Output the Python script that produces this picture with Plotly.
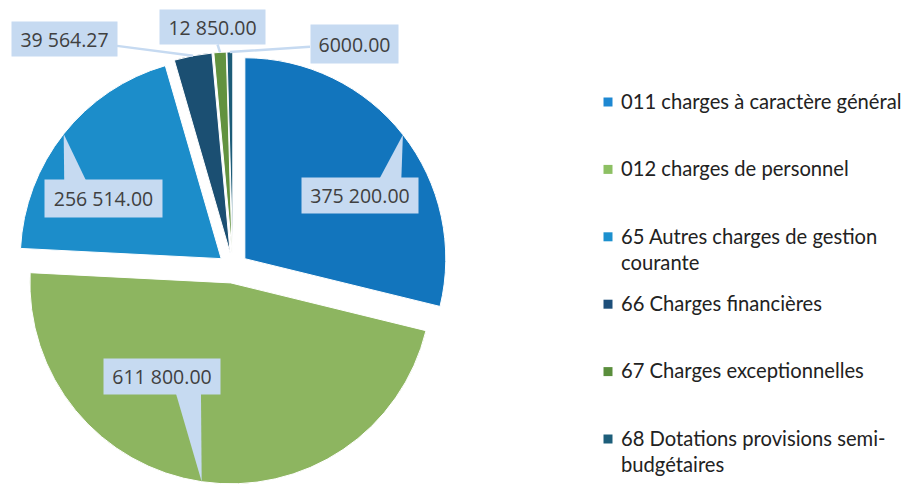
import math
import plotly.graph_objects as go

# ---- data ----
categories = [
    "011 charges à caractère général",
    "012 charges de personnel",
    "65 Autres charges de gestion<br>courante",
    "66 Charges financières",
    "67 Charges exceptionnelles",
    "68 Dotations provisions semi-<br>budgétaires",
]
values = [375200.00, 611800.00, 256514.00, 39564.27, 12850.00, 6000.00]
slice_colors = ["#1275BD", "#8DB560", "#1C8DCA", "#1B4F72", "#62923F", "#1D5C78"]
legend_colors = ["#1E88D2", "#8DC063", "#1C90CE", "#1D4F7A", "#5A8E3C", "#1D5E7A"]

# ---- layout constants ----
W, H = 904, 484
PULL = 0.075
dom_x = [16 / W, 450 / W]
dom_y = [0.0, 1 - 52 / H]
CALLOUT_BG = "#C6DAF1"
CALLOUT_FONT = dict(family="Open Sans", size=19.5, color="#404040")
LEG_FONT = dict(family="Lato", size=20.2, color="#222222")


def fmt(v):
    s = f"{v:,.2f}"
    if v >= 10000:
        return s.replace(",", " ")
    return s.replace(",", "")


def px2paper(x, y):
    return x / W, 1 - y / H


fig = go.Figure(
    go.Pie(
        labels=categories,
        values=values,
        sort=False,
        direction="clockwise",
        rotation=0,
        pull=[PULL] * len(values),
        marker=dict(colors=slice_colors, line=dict(color="white", width=1)),
        textinfo="none",
        hoverinfo="label+value",
        domain=dict(x=dom_x, y=dom_y),
        showlegend=False,
    )
)

# ---- callouts: tips computed from slice mid-angles ----
total = sum(values)
box_w = (dom_x[1] - dom_x[0]) * W
box_h = (dom_y[1] - dom_y[0]) * H
cx_px = (dom_x[0] + dom_x[1]) / 2 * W
cy_px = (1 - dom_y[1]) * H + box_h / 2
outer = min(box_w, box_h) / 2

# (box centre in px, box text width, box text height, style)
callouts = [
    ((360, 195), 106, 25, "wedge"),
    ((162, 376), 106, 25, "wedge"),
    ((103, 198), 107, 27, "wedge"),
    ((64, 39), 95, 24, "line"),
    ((212, 27), 95, 24, "line"),
    ((354, 44), 77, 28, "line"),
]

cum = 0.0
for v, ((bx, by), bw, bh, style) in zip(values, callouts):
    mid = (cum + v / 2) / total * 2 * math.pi
    cum += v
    tx = cx_px + outer * math.sin(mid)
    ty = cy_px - outer * math.cos(mid)
    if style == "wedge":
        base_c = bx + max(-40, min(40, 0.6 * (tx - bx)))
        pts = [px2paper(base_c - 15, by), px2paper(base_c + 15, by), px2paper(tx, ty)]
        path = "M {:.5f} {:.5f} L {:.5f} {:.5f} L {:.5f} {:.5f} Z".format(
            pts[0][0], pts[0][1], pts[1][0], pts[1][1], pts[2][0], pts[2][1])
        fig.add_shape(type="path", path=path, xref="paper", yref="paper",
                      fillcolor=CALLOUT_BG, line=dict(width=0), layer="above")
        px_, py_ = px2paper(bx, by)
        fig.add_annotation(x=px_, y=py_, xref="paper", yref="paper",
                           xanchor="center", yanchor="middle",
                           text=fmt(v), showarrow=False, width=bw, height=bh,
                           bgcolor=CALLOUT_BG, borderpad=5, font=CALLOUT_FONT)
    else:
        px_, py_ = px2paper(tx, ty)
        fig.add_annotation(x=px_, y=py_, xref="paper", yref="paper",
                           text=fmt(v), showarrow=True, arrowhead=0, arrowwidth=2.5,
                           arrowcolor=CALLOUT_BG, ax=bx - tx, ay=by - ty, standoff=0,
                           width=bw, height=bh,
                           bgcolor=CALLOUT_BG, borderpad=5, font=CALLOUT_FONT)

# ---- legend (drawn as text + square swatches) ----
LEG_Y0, LEG_STEP = 101, 67.4
LEG_SW_X, LEG_TX = 608, 620
for i, (lab, col) in enumerate(zip(categories, legend_colors)):
    yc = LEG_Y0 + i * LEG_STEP
    x0, y0 = px2paper(LEG_SW_X - 4.5, yc - 3.5)
    x1, y1 = px2paper(LEG_SW_X + 4.5, yc + 5.5)
    fig.add_shape(type="rect", xref="paper", yref="paper", x0=x0, x1=x1, y0=y0, y1=y1,
                  fillcolor=col, line=dict(width=0), layer="above")
    ax_, ay_ = px2paper(LEG_TX, yc - 0.65 * LEG_FONT["size"])
    fig.add_annotation(x=ax_, y=ay_, xref="paper", yref="paper", text=lab,
                       showarrow=False, xanchor="left", yanchor="top", align="left",
                       borderpad=0, font=LEG_FONT)

fig.update_layout(
    width=W, height=H,
    margin=dict(l=0, r=0, t=0, b=0),
    paper_bgcolor="white", plot_bgcolor="white",
    showlegend=False,
)

fig.write_html(
    "out.html",
    config={"displayModeBar": False},
    post_script="document.body.style.margin='0';document.body.style.padding='0';",
)
